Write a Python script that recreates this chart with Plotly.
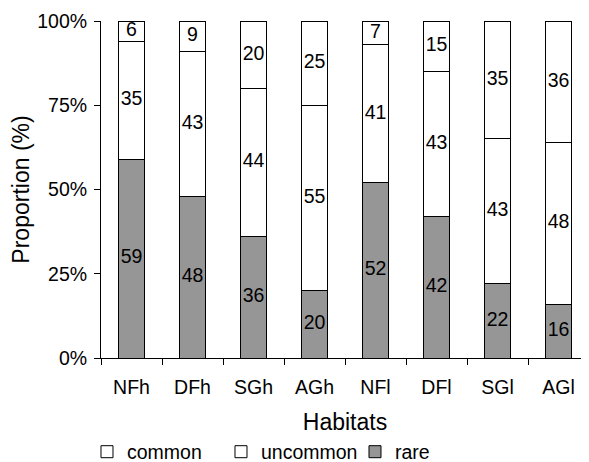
import plotly.graph_objects as go

categories = ["NFh", "DFh", "SGh", "AGh", "NFl", "DFl", "SGl", "AGl"]
rare = [59, 48, 36, 20, 52, 42, 22, 16]
uncommon = [35, 43, 44, 55, 41, 43, 43, 48]
common = [6, 9, 20, 25, 7, 15, 35, 36]
y_ticks = [0, 25, 50, 75, 100]
y_tick_labels = ["0%", "25%", "50%", "75%", "100%"]

FONT = "Liberation Sans, Arial, sans-serif"
FS = 19.5
GRAY = "#969696"

fig = go.Figure()
series = [("rare", rare, GRAY), ("uncommon", uncommon, "white"), ("common", common, "white")]
for name, vals, col in series:
    fig.add_trace(go.Bar(
        x=categories, y=vals, name=name, width=0.426,
        marker=dict(color=col, line=dict(color="black", width=1)),
    ))

# labels centred in each segment
base = [0] * len(categories)
for name, vals, col in series:
    mids = [b + v / 2 for b, v in zip(base, vals)]
    fig.add_trace(go.Scatter(
        x=categories, y=mids, mode="text", text=[str(v) for v in vals],
        textfont=dict(family=FONT, size=FS, color="black"),
        showlegend=False, hoverinfo="skip", cliponaxis=False,
    ))
    base = [b + v for b, v in zip(base, vals)]

fig.update_layout(
    width=581, height=454,
    margin=dict(l=93, r=0, t=13, b=104, autoexpand=False),
    paper_bgcolor="white", plot_bgcolor="white",
    barmode="stack",
    font=dict(family=FONT, size=FS, color="black"),
    showlegend=True,
    legend=dict(orientation="h", x=-0.0287, xanchor="left", y=-0.279, yanchor="middle",
                traceorder="reversed", font=dict(size=FS), itemwidth=30,
                entrywidth=89, tracegroupgap=0, bgcolor="rgba(0,0,0,0)"),
    xaxis=dict(
        range=[-0.5, 7.5], showline=True, linecolor="black", linewidth=1,
        ticks="outside", tickson="boundaries", ticklen=6, tickcolor="black",
        showgrid=False, title=dict(text="Habitats", standoff=16),
        tickfont=dict(size=FS), automargin=False, ticklabelstandoff=12,
    ),
    yaxis=dict(
        range=[0, 100], tickvals=y_ticks, ticktext=y_tick_labels,
        showline=True, linecolor="black", linewidth=1,
        ticks="outside", ticklen=6, tickcolor="black", showgrid=False,
        zeroline=False, title=dict(text="Proportion (%)", standoff=4),
        tickfont=dict(size=FS), automargin=False, ticklabelstandoff=3,
    ),
)

fig.write_html("out.html")
